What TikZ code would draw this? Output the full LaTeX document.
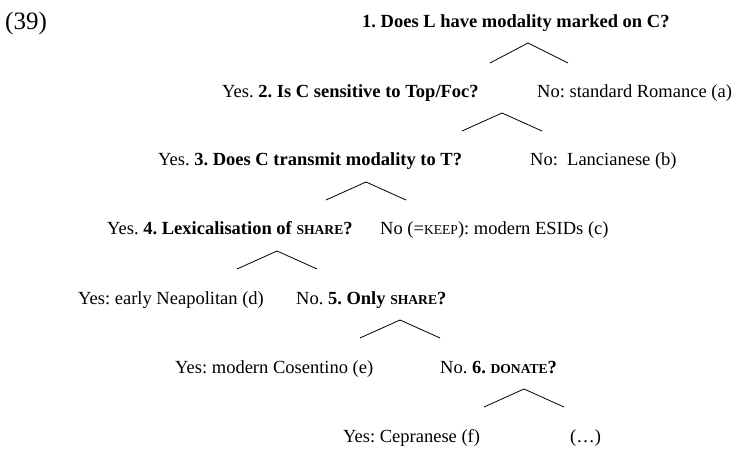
\documentclass[tikz,border=0pt]{standalone}
\usepackage{fontspec}
\setmainfont{Liberation Serif}
\usetikzlibrary{positioning}
\newcommand{\fakesc}[1]{{\fontsize{13.6}{15}\selectfont #1}}
\frenchspacing

\begin{document}
\begin{tikzpicture}[x=1pt, y=-1pt,
    txt/.style={anchor=base west, inner sep=0pt, font=\fontsize{18.5}{22}\selectfont},
    branch/.style={line width=0.8pt}]
        \useasboundingbox (0,0) rectangle (738,454);

        % Example number
        \node[txt, font=\fontsize{25}{28}\selectfont] (num) at (5,30) {(39)};

        % Question 1
        \node[txt] (q1) at (362,28) {\textbf{1. Does L have modality marked on C?}};
        \coordinate (b1) at (528,43);
        \coordinate (b1l) at (490,63);
        \coordinate (b1r) at (568,63);
        \draw[branch] (b1l) -- (b1) -- (b1r);

        % Question 2
        \node[txt] (q2) at (222,98) {Yes. \textbf{2. Is C sensitive to Top/Foc?}};
        \node[txt] (a) at (537,98) {No: standard Romance (a)};
        \coordinate (b2) at (502,113);
        \coordinate (b2l) at (462,131);
        \coordinate (b2r) at (542,131);
        \draw[branch] (b2l) -- (b2) -- (b2r);

        % Question 3
        \node[txt] (q3) at (158,166) {Yes. \textbf{3. Does C transmit modality to T?}};
        \node[txt] (b) at (530,166) {No:\ \ Lancianese (b)};
        \coordinate (b3) at (366,182);
        \coordinate (b3l) at (326,200);
        \coordinate (b3r) at (406,200);
        \draw[branch] (b3l) -- (b3) -- (b3r);

        % Question 4
        \node[txt] (q4) at (107,235) {Yes. \textbf{4. Lexicalisation of \fakesc{SHARE}?}};
        \node[txt] (c) at (380,235) {No (=\fakesc{KEEP}): modern ESIDs (c)};
        \coordinate (b4) at (277,251);
        \coordinate (b4l) at (237,269);
        \coordinate (b4r) at (317,269);
        \draw[branch] (b4l) -- (b4) -- (b4r);

        % Question 5
        \node[txt] (d) at (78,304) {Yes: early Neapolitan (d)};
        \node[txt] (q5) at (296,304) {No. \textbf{5. Only \fakesc{SHARE}?}};
        \coordinate (b5) at (400,320);
        \coordinate (b5l) at (360,338);
        \coordinate (b5r) at (440,338);
        \draw[branch] (b5l) -- (b5) -- (b5r);

        % Question 6
        \node[txt] (e) at (175,373) {Yes: modern Cosentino (e)};
        \node[txt] (q6) at (440,373) {No. \textbf{6. \fakesc{DONATE}?}};
        \coordinate (b6) at (524,389);
        \coordinate (b6l) at (484,407);
        \coordinate (b6r) at (564,407);
        \draw[branch] (b6l) -- (b6) -- (b6r);

        % Leaves
        \node[txt] (f) at (343,442) {Yes: Cepranese (f)};
        \node[txt] (rest) at (570,442) {(\dots)};
    \end{tikzpicture}
\end{document}
